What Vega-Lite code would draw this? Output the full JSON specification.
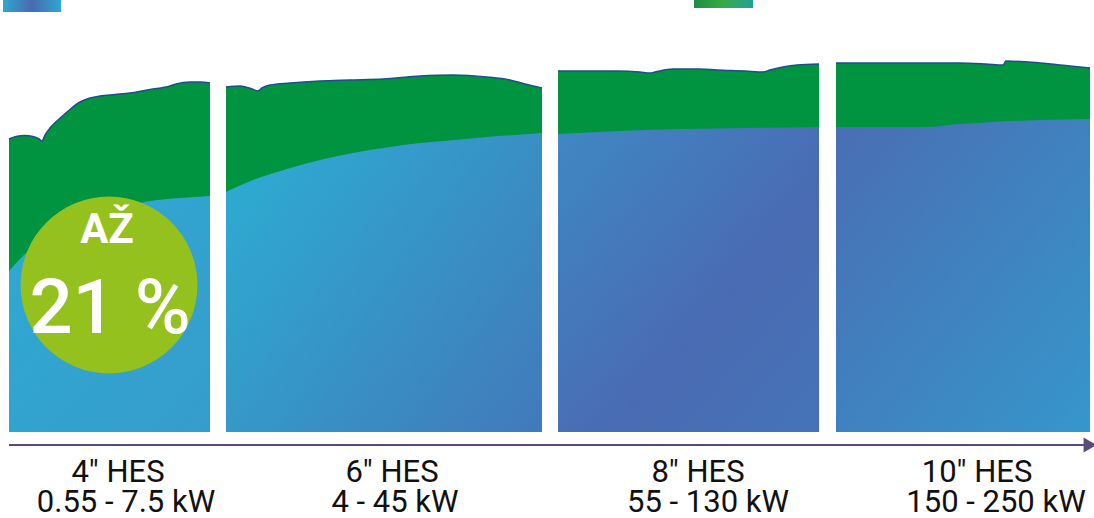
{
  "$schema": "https://vega.github.io/schema/vega-lite/v6.json",
  "width": 1094,
  "height": 518,
  "padding": 0,
  "autosize": {"type": "none"},
  "background": "white",
  "config": {"view": {"stroke": null}},
  "datasets": {
    "green": [
      {"panel": 1, "x": 9, "top": 139}, {"panel": 1, "x": 16, "top": 136.5}, {"panel": 1, "x": 25, "top": 135.5}, {"panel": 1, "x": 33, "top": 136.5}, {"panel": 1, "x": 39, "top": 139}, {"panel": 1, "x": 42, "top": 141}, {"panel": 1, "x": 45, "top": 135}, {"panel": 1, "x": 50, "top": 128}, {"panel": 1, "x": 58, "top": 120}, {"panel": 1, "x": 67, "top": 112}, {"panel": 1, "x": 80, "top": 102}, {"panel": 1, "x": 90, "top": 98}, {"panel": 1, "x": 100, "top": 96}, {"panel": 1, "x": 115, "top": 94.5}, {"panel": 1, "x": 130, "top": 93}, {"panel": 1, "x": 150, "top": 89.5}, {"panel": 1, "x": 170, "top": 86}, {"panel": 1, "x": 176, "top": 84}, {"panel": 1, "x": 190, "top": 82}, {"panel": 1, "x": 200, "top": 82}, {"panel": 1, "x": 210, "top": 83},
      {"panel": 2, "x": 226, "top": 87}, {"panel": 2, "x": 240, "top": 86}, {"panel": 2, "x": 252, "top": 89}, {"panel": 2, "x": 258, "top": 91}, {"panel": 2, "x": 262, "top": 88}, {"panel": 2, "x": 270, "top": 85}, {"panel": 2, "x": 290, "top": 83}, {"panel": 2, "x": 320, "top": 81}, {"panel": 2, "x": 350, "top": 80}, {"panel": 2, "x": 383, "top": 79}, {"panel": 2, "x": 420, "top": 76}, {"panel": 2, "x": 453, "top": 75}, {"panel": 2, "x": 487, "top": 77}, {"panel": 2, "x": 510, "top": 80}, {"panel": 2, "x": 525, "top": 84}, {"panel": 2, "x": 542, "top": 88},
      {"panel": 3, "x": 558, "top": 71}, {"panel": 3, "x": 590, "top": 71}, {"panel": 3, "x": 617, "top": 71}, {"panel": 3, "x": 640, "top": 72}, {"panel": 3, "x": 650, "top": 73}, {"panel": 3, "x": 655, "top": 72}, {"panel": 3, "x": 673, "top": 69}, {"panel": 3, "x": 700, "top": 69}, {"panel": 3, "x": 717, "top": 70}, {"panel": 3, "x": 745, "top": 71}, {"panel": 3, "x": 763, "top": 72}, {"panel": 3, "x": 770, "top": 70}, {"panel": 3, "x": 797, "top": 65}, {"panel": 3, "x": 819, "top": 64},
      {"panel": 4, "x": 836, "top": 63}, {"panel": 4, "x": 880, "top": 63}, {"panel": 4, "x": 926, "top": 63}, {"panel": 4, "x": 960, "top": 63}, {"panel": 4, "x": 986, "top": 64}, {"panel": 4, "x": 1003, "top": 65}, {"panel": 4, "x": 1006, "top": 61}, {"panel": 4, "x": 1040, "top": 63}, {"panel": 4, "x": 1070, "top": 66}, {"panel": 4, "x": 1090, "top": 68}
    ],
    "blue": [
      {"panel": 1, "x": 9, "top": 271}, {"panel": 1, "x": 21, "top": 258}, {"panel": 1, "x": 35, "top": 245}, {"panel": 1, "x": 50, "top": 234}, {"panel": 1, "x": 70, "top": 223}, {"panel": 1, "x": 90, "top": 215}, {"panel": 1, "x": 110, "top": 209}, {"panel": 1, "x": 130, "top": 205}, {"panel": 1, "x": 150, "top": 201}, {"panel": 1, "x": 180, "top": 198}, {"panel": 1, "x": 210, "top": 196},
      {"panel": 2, "x": 226, "top": 192}, {"panel": 2, "x": 253, "top": 180}, {"panel": 2, "x": 287, "top": 169}, {"panel": 2, "x": 320, "top": 160}, {"panel": 2, "x": 353, "top": 153}, {"panel": 2, "x": 390, "top": 147}, {"panel": 2, "x": 420, "top": 143}, {"panel": 2, "x": 455, "top": 140}, {"panel": 2, "x": 487, "top": 137}, {"panel": 2, "x": 515, "top": 135}, {"panel": 2, "x": 542, "top": 133},
      {"panel": 3, "x": 558, "top": 134}, {"panel": 3, "x": 620, "top": 131}, {"panel": 3, "x": 683, "top": 129}, {"panel": 3, "x": 750, "top": 128}, {"panel": 3, "x": 819, "top": 127},
      {"panel": 4, "x": 836, "top": 127}, {"panel": 4, "x": 880, "top": 127}, {"panel": 4, "x": 926, "top": 127}, {"panel": 4, "x": 960, "top": 124}, {"panel": 4, "x": 993, "top": 122}, {"panel": 4, "x": 1040, "top": 120}, {"panel": 4, "x": 1090, "top": 119}
    ],
    "labels": [
      {"text": "4″ HES", "x": 118, "y": 482},
      {"text": "0.55 - 7.5 kW", "x": 126, "y": 512},
      {"text": "6″ HES", "x": 392, "y": 482},
      {"text": "4 - 45 kW", "x": 395, "y": 512},
      {"text": "8″ HES", "x": 698, "y": 482},
      {"text": "55 - 130 kW", "x": 708, "y": 512},
      {"text": "10″ HES", "x": 977, "y": 482},
      {"text": "150 - 250 kW", "x": 996, "y": 512}
    ],
    "badge": [{"x": 109, "y": 285, "top": "AŽ", "big": "21 %"}],
    "axisline": [{"x": 9, "x2": 1089, "y": 445}],
    "swatch": [{"name": "blue", "x": 3, "x2": 61, "y": -5, "y2": 12}, {"name": "green", "x": 694, "x2": 753, "y": -5, "y2": 8}]
  },
  "layer": [
    {
      "data": {"name": "green"},
      "mark": {"type": "area", "color": "#009440", "interpolate": "monotone"},
      "encoding": {
        "x": {"field": "x", "type": "quantitative", "scale": {"domain": [0, 1094], "nice": false, "zero": false}, "axis": null},
        "y": {"field": "top", "type": "quantitative", "scale": {"domain": [0, 518], "nice": false, "zero": false, "reverse": true}, "axis": null},
        "y2": {"datum": 432},
        "detail": {"field": "panel"}
      }
    },
    {
      "data": {"name": "green"},
      "mark": {"type": "line", "color": "#1d4f8f", "strokeWidth": 1.5, "interpolate": "monotone"},
      "encoding": {
        "x": {"field": "x", "type": "quantitative", "scale": {"domain": [0, 1094], "nice": false, "zero": false}, "axis": null},
        "y": {"field": "top", "type": "quantitative", "scale": {"domain": [0, 518], "nice": false, "zero": false, "reverse": true}, "axis": null},
        "detail": {"field": "panel"}
      }
    },
    {
      "data": {"name": "blue"},
      "transform": [{"filter": "datum.panel == 1"}],
      "mark": {"type": "area", "interpolate": "monotone", "color": {"gradient": "linear", "x1": 0, "y1": 0, "x2": 1, "y2": 1, "stops": [{"offset": 0, "color": "#2eaad2"}, {"offset": 1, "color": "#369ccc"}]}},
      "encoding": {
        "x": {"field": "x", "type": "quantitative", "scale": {"domain": [0, 1094], "nice": false, "zero": false}, "axis": null},
        "y": {"field": "top", "type": "quantitative", "scale": {"domain": [0, 518], "nice": false, "zero": false, "reverse": true}, "axis": null},
        "y2": {"datum": 432}
      }
    },
    {
      "data": {"name": "blue"},
      "transform": [{"filter": "datum.panel == 2"}],
      "mark": {"type": "area", "interpolate": "monotone", "color": {"gradient": "linear", "x1": 0, "y1": 0.3, "x2": 1, "y2": 1, "stops": [{"offset": 0, "color": "#2ea8d0"}, {"offset": 1, "color": "#4279ba"}]}},
      "encoding": {
        "x": {"field": "x", "type": "quantitative", "scale": {"domain": [0, 1094], "nice": false, "zero": false}, "axis": null},
        "y": {"field": "top", "type": "quantitative", "scale": {"domain": [0, 518], "nice": false, "zero": false, "reverse": true}, "axis": null},
        "y2": {"datum": 432}
      }
    },
    {
      "data": {"name": "blue"},
      "transform": [{"filter": "datum.panel == 3"}],
      "mark": {"type": "area", "interpolate": "monotone", "color": {"gradient": "linear", "x1": 0, "y1": 0, "x2": 1, "y2": 1, "stops": [{"offset": 0, "color": "#3e88c3"}, {"offset": 0.6, "color": "#4a6bb3"}, {"offset": 1, "color": "#4573b7"}]}},
      "encoding": {
        "x": {"field": "x", "type": "quantitative", "scale": {"domain": [0, 1094], "nice": false, "zero": false}, "axis": null},
        "y": {"field": "top", "type": "quantitative", "scale": {"domain": [0, 518], "nice": false, "zero": false, "reverse": true}, "axis": null},
        "y2": {"datum": 432}
      }
    },
    {
      "data": {"name": "blue"},
      "transform": [{"filter": "datum.panel == 4"}],
      "mark": {"type": "area", "interpolate": "monotone", "color": {"gradient": "linear", "x1": 0, "y1": 0, "x2": 1, "y2": 1, "stops": [{"offset": 0, "color": "#4a6db3"}, {"offset": 1, "color": "#3696cb"}]}},
      "encoding": {
        "x": {"field": "x", "type": "quantitative", "scale": {"domain": [0, 1094], "nice": false, "zero": false}, "axis": null},
        "y": {"field": "top", "type": "quantitative", "scale": {"domain": [0, 518], "nice": false, "zero": false, "reverse": true}, "axis": null},
        "y2": {"datum": 432}
      }
    },
    {
      "data": {"name": "badge"},
      "mark": {"type": "point", "shape": "circle", "filled": true, "color": "#95c11f", "opacity": 1, "size": 31300},
      "encoding": {
        "x": {"field": "x", "type": "quantitative", "scale": {"domain": [0, 1094], "nice": false, "zero": false}, "axis": null},
        "y": {"field": "y", "type": "quantitative", "scale": {"domain": [0, 518], "nice": false, "zero": false, "reverse": true}, "axis": null}
      }
    },
    {
      "data": {"name": "badge"},
      "mark": {"type": "text", "color": "white", "font": "Roboto", "fontWeight": "bold", "fontSize": 42, "align": "center", "baseline": "alphabetic", "dx": -2, "dy": -42},
      "encoding": {
        "x": {"field": "x", "type": "quantitative", "scale": {"domain": [0, 1094], "nice": false, "zero": false}, "axis": null},
        "y": {"field": "y", "type": "quantitative", "scale": {"domain": [0, 518], "nice": false, "zero": false, "reverse": true}, "axis": null},
        "text": {"field": "top"}
      }
    },
    {
      "data": {"name": "badge"},
      "mark": {"type": "text", "color": "white", "font": "Roboto", "fontWeight": 500, "fontSize": 76, "align": "center", "baseline": "alphabetic", "dx": 1, "dy": 48},
      "encoding": {
        "x": {"field": "x", "type": "quantitative", "scale": {"domain": [0, 1094], "nice": false, "zero": false}, "axis": null},
        "y": {"field": "y", "type": "quantitative", "scale": {"domain": [0, 518], "nice": false, "zero": false, "reverse": true}, "axis": null},
        "text": {"field": "big"}
      }
    },
    {
      "data": {"name": "axisline"},
      "mark": {"type": "rule", "color": "#5d4a7d", "strokeWidth": 2},
      "encoding": {
        "x": {"field": "x", "type": "quantitative", "scale": {"domain": [0, 1094], "nice": false, "zero": false}, "axis": null},
        "x2": {"field": "x2"},
        "y": {"field": "y", "type": "quantitative", "scale": {"domain": [0, 518], "nice": false, "zero": false, "reverse": true}, "axis": null}
      }
    },
    {
      "data": {"name": "axisline"},
      "mark": {"type": "point", "shape": "triangle-right", "filled": true, "color": "#5d4a7d", "opacity": 1, "size": 220, "xOffset": 1},
      "encoding": {
        "x": {"field": "x2", "type": "quantitative", "scale": {"domain": [0, 1094], "nice": false, "zero": false}, "axis": null},
        "y": {"field": "y", "type": "quantitative", "scale": {"domain": [0, 518], "nice": false, "zero": false, "reverse": true}, "axis": null}
      }
    },
    {
      "data": {"name": "labels"},
      "mark": {"type": "text", "color": "#111111", "font": "Roboto", "fontSize": 31, "align": "center", "baseline": "alphabetic"},
      "encoding": {
        "x": {"field": "x", "type": "quantitative", "scale": {"domain": [0, 1094], "nice": false, "zero": false}, "axis": null},
        "y": {"field": "y", "type": "quantitative", "scale": {"domain": [0, 518], "nice": false, "zero": false, "reverse": true}, "axis": null},
        "text": {"field": "text"}
      }
    },
    {
      "data": {"name": "swatch"},
      "transform": [{"filter": "datum.name == 'blue'"}],
      "mark": {"type": "rect", "color": {"gradient": "linear", "x1": 0, "y1": 0, "x2": 1, "y2": 0, "stops": [{"offset": 0, "color": "#2fa6d0"}, {"offset": 0.5, "color": "#4a6ab2"}, {"offset": 1, "color": "#2fa6d0"}]}},
      "encoding": {
        "x": {"field": "x", "type": "quantitative", "scale": {"domain": [0, 1094], "nice": false, "zero": false}, "axis": null},
        "x2": {"field": "x2"},
        "y": {"field": "y", "type": "quantitative", "scale": {"domain": [0, 518], "nice": false, "zero": false, "reverse": true}, "axis": null},
        "y2": {"field": "y2"}
      }
    },
    {
      "data": {"name": "swatch"},
      "transform": [{"filter": "datum.name == 'green'"}],
      "mark": {"type": "rect", "color": {"gradient": "linear", "x1": 0, "y1": 0, "x2": 1, "y2": 0, "stops": [{"offset": 0, "color": "#1c8e45"}, {"offset": 0.5, "color": "#3aa946"}, {"offset": 1, "color": "#21a09a"}]}},
      "encoding": {
        "x": {"field": "x", "type": "quantitative", "scale": {"domain": [0, 1094], "nice": false, "zero": false}, "axis": null},
        "x2": {"field": "x2"},
        "y": {"field": "y", "type": "quantitative", "scale": {"domain": [0, 518], "nice": false, "zero": false, "reverse": true}, "axis": null},
        "y2": {"field": "y2"}
      }
    }
  ]
}
